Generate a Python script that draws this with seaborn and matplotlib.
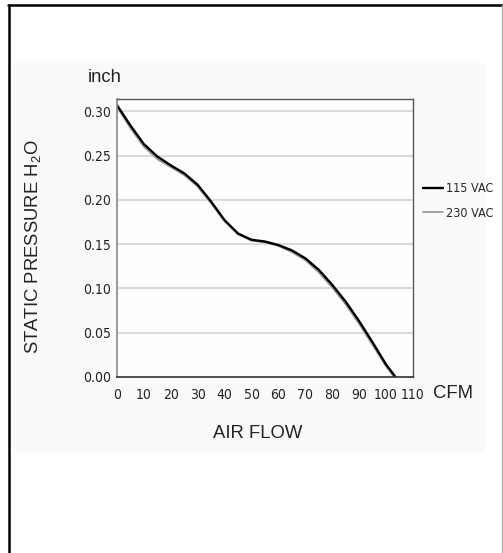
import pandas as pd
import matplotlib.pyplot as plt
from matplotlib.lines import Line2D
from matplotlib.patches import Rectangle
import seaborn as sns

# fan curve (CFM vs inch H2O)
airflow_115 = [0, 5, 10, 15, 20, 25, 30, 35, 40, 45, 50, 55, 60, 65, 70, 75, 80, 85, 90, 95, 100, 103.5]
pressure_115 = [0.307, 0.284, 0.263, 0.249, 0.239, 0.230, 0.217, 0.198, 0.177, 0.162, 0.155, 0.153,
                0.149, 0.143, 0.134, 0.121, 0.104, 0.085, 0.063, 0.039, 0.014, 0.0]
airflow_230 = [0, 5, 10, 15, 20, 25, 30, 35, 40, 45, 50, 55, 60, 65, 70, 75, 80, 85, 90, 95, 100, 103]
pressure_230 = [0.305, 0.281, 0.260, 0.246, 0.237, 0.228, 0.215, 0.196, 0.176, 0.161, 0.154, 0.152,
                0.148, 0.141, 0.132, 0.118, 0.101, 0.082, 0.060, 0.036, 0.012, 0.0]

x_ticks = [0, 10, 20, 30, 40, 50, 60, 70, 80, 90, 100, 110]
y_ticks = [0.00, 0.05, 0.10, 0.15, 0.20, 0.25, 0.30]
y_tick_labels = ['0.00', '0.05', '0.10', '0.15', '0.20', '0.25', '0.30']

df115 = pd.DataFrame({'CFM': airflow_115, 'P': pressure_115})
df230 = pd.DataFrame({'CFM': airflow_230, 'P': pressure_230})

sns.set_style('white')
plt.rcParams['font.family'] = ['Liberation Sans', 'DejaVu Sans']
plt.rcParams['mathtext.default'] = 'regular'
narrow = ['DejaVu Sans']

fig = plt.figure(figsize=(5.03, 5.53), dpi=100)

# page frame and light panel behind the chart
fig.add_artist(Rectangle((13 / 503, 1 - 453 / 553), 472 / 503, 390 / 553,
                         transform=fig.transFigure, facecolor='#fafafa', edgecolor='none', zorder=0))
fig.add_artist(Line2D([8 / 503, 1], [1 - 5 / 553, 1 - 5 / 553], transform=fig.transFigure, color='black', lw=1.8))
fig.add_artist(Line2D([8.5 / 503, 8.5 / 503], [0, 1 - 5 / 553], transform=fig.transFigure, color='black', lw=1.8))
fig.add_artist(Line2D([501.5 / 503, 501.5 / 503], [0, 1 - 5 / 553], transform=fig.transFigure, color='#b0b0b0', lw=1))

ax = fig.add_axes([117 / 503, 1 - 377 / 553, 296 / 503, 278 / 553])
ax.set_facecolor('#fdfdfd')

sns.lineplot(x='CFM', y='P', data=df230, ax=ax, color='#9a9a9a', lw=1.3, label='230 VAC')
sns.lineplot(x='CFM', y='P', data=df115, ax=ax, color='black', lw=1.7, label='115 VAC')

ax.set_xlim(0, 110)
ax.set_ylim(0, 0.314)

ax.set_xticks(x_ticks, [str(t) for t in x_ticks])
ax.set_yticks(y_ticks, y_tick_labels)
for lbl in ax.get_xticklabels() + ax.get_yticklabels():
    lbl.set_family(narrow)
    lbl.set_stretch('condensed')
    lbl.set_fontsize(10)
    lbl.set_color('#222222')
ax.tick_params(axis='x', direction='inout', length=8, width=1, color='#333333', pad=4)
ax.tick_params(axis='y', length=0, pad=4)
ticks = ax.xaxis.get_major_ticks()
ticks[0].tick1line.set_visible(False)
ticks[-1].tick1line.set_visible(False)

ax.yaxis.grid(True, color='#d8d8d8', lw=1.3)
ax.set_axisbelow(True)
for side in ['top', 'right']:
    ax.spines[side].set_color('#555555')
    ax.spines[side].set_linewidth(1)
ax.spines['left'].set_color('#888888')
ax.spines['left'].set_linewidth(1.2)
ax.spines['bottom'].set_color('#333333')
ax.spines['bottom'].set_linewidth(1.2)

ax.set_xlabel('')
ax.set_ylabel('STATIC PRESSURE H$_2$O', fontsize=13.3, color='#222222')
ax.yaxis.set_label_coords(-0.25, 0.47)

fig.text(88 / 503, 1 - 77 / 553, 'inch', fontsize=13.3, va='center', ha='left', color='#222222')
fig.text(433 / 503, 1 - 394 / 553, 'CFM', fontsize=13.3, va='center', ha='left', color='#222222')
fig.text(258 / 503, 1 - 434 / 553, 'AIR FLOW', fontsize=13.3, va='center', ha='center', color='#222222')

# legend to the right, 115 VAC first
handles, labels = ax.get_legend_handles_labels()
ax.legend(handles[::-1], labels[::-1], loc='center left', bbox_to_anchor=(1.034, 0.633),
          frameon=False, borderaxespad=0, borderpad=0, handlelength=1.6, handletextpad=0.25,
          labelspacing=0.9, prop={'family': narrow, 'stretch': 'condensed', 'size': 9})

fig.savefig('out.png', dpi=100)
